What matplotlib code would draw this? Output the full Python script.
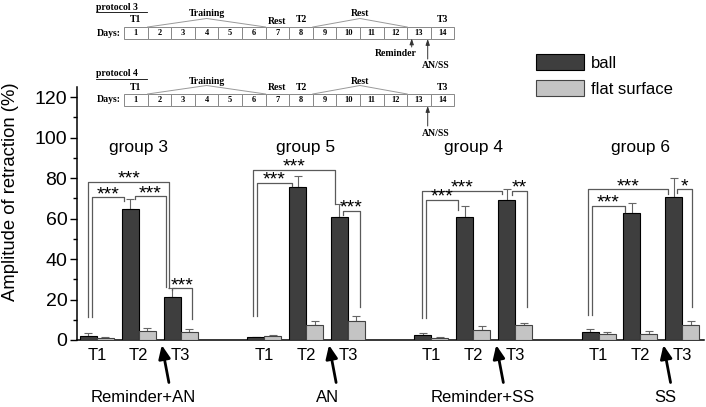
import matplotlib
matplotlib.use("Agg")
import matplotlib.pyplot as plt
from matplotlib.patches import Patch, Rectangle
import numpy as np

plt.rcParams['font.family'] = ['Liberation Sans', 'DejaVu Sans']

# ---- data (amplitude of retraction, %) ----
groups = ['group 3', 'group 5', 'group 4', 'group 6']
treatments = ['Reminder+AN', 'AN', 'Reminder+SS', 'SS']
tests = ['T1', 'T2', 'T3']

ball = [[2.1, 64.7, 21.4],
        [1.3, 75.4, 60.6],
        [2.6, 60.7, 69.1],
        [4.0, 62.7, 70.8]]
ball_err = [[1.2, 4.9, 4.4],
            [0.3, 5.6, 6.4],
            [1.0, 5.6, 5.6],
            [1.4, 5.1, 9.4]]
flat = [[1.2, 4.3, 4.0],
        [2.0, 7.4, 9.4],
        [1.1, 5.1, 7.4],
        [3.1, 3.1, 7.2]]
flat_err = [[0.3, 1.8, 1.3],
            [0.5, 1.8, 2.6],
            [0.5, 1.6, 1.0],
            [1.0, 1.5, 2.2]]

# significance brackets per group: (x left, x right, top, left end, right end, label)
# x is relative to the group's T1 position
brackets = [
    [(-0.21, 1.73, 78.2, 11.5, 25.7, '***'),
     (-0.11, 0.65, 70.5, 11.5, 68.5, '***'),
     (0.91, 1.65, 71.0, 69.5, 26.3, '***'),
     (1.79, 2.28, 25.5, 24.5, 10.2, '***')],
    [(-0.26, 1.69, 84.0, 11.9, 67.0, '***'),
     (-0.17, 0.66, 77.8, 11.9, 76.0, '***'),
     (1.89, 2.28, 63.7, 62.0, 16.4, '***')],
    [(-0.23, 1.68, 73.6, 10.7, 72.2, '***'),
     (-0.13, 0.64, 69.1, 10.7, 64.0, '***'),
     (1.93, 2.28, 73.8, 71.6, 16.4, '**')],
    [(-0.26, 1.67, 74.4, 12.3, 71.9, '***'),
     (-0.17, 0.63, 66.2, 12.3, 63.4, '***'),
     (1.88, 2.24, 74.4, 72.8, 16.4, '*')],
]
arrow_tip_x = 1.55
treat_label_x = [1.1, 1.52, 1.23, 1.59]

group_step = 4.0
bar_w = 0.407
ball_color = '#3e3e3e'
flat_color = '#c4c4c4'
line_grey = '#5a5a5a'

W, H = 706, 407
fig = plt.figure(figsize=(W / 100, H / 100), dpi=100)
ax = fig.add_axes([77 / W, 67 / H, 627 / W, 253 / H])

xt, xtl = [], []
for g in range(len(groups)):
    x0 = g * group_step
    pos = x0 + np.arange(3)
    ax.bar(pos - bar_w / 2, ball[g], bar_w, color=ball_color, edgecolor='black', linewidth=0.8, zorder=3)
    ax.bar(pos + bar_w / 2, flat[g], bar_w, color=flat_color, edgecolor='#444444', linewidth=0.8, zorder=3)
    ax.errorbar(pos - bar_w / 2, ball[g], yerr=[np.zeros(3), ball_err[g]], fmt='none',
                ecolor='#666666', elinewidth=0.8, capsize=3, capthick=0.8, zorder=2)
    ax.errorbar(pos + bar_w / 2, flat[g], yerr=[np.zeros(3), flat_err[g]], fmt='none',
                ecolor='#666666', elinewidth=0.8, capsize=3, capthick=0.8, zorder=2)
    xt.extend(pos)
    xtl.extend(tests)

    for (xl, xr, top, yl, yr, lab) in brackets[g]:
        ax.plot([x0 + xl, x0 + xl, x0 + xr, x0 + xr], [yl, top, top, yr],
                color=line_grey, linewidth=0.9, zorder=4)
        ax.text(x0 + (xl + xr) / 2, top - 0.9, lab, ha='center', va='baseline', fontsize=14, zorder=5)

    ax.text(x0 + 1, 95, groups[g], ha='center', va='center', fontsize=12.5)

    ax.annotate('', xy=(x0 + arrow_tip_x, -2.5), xytext=(x0 + arrow_tip_x + 0.17, -21),
                xycoords='data', annotation_clip=False,
                arrowprops=dict(arrowstyle='-|>,head_length=0.8,head_width=0.35',
                                color='black', linewidth=2.0, shrinkA=0, shrinkB=0))
    ax.text(x0 + treat_label_x[g], -28.5, treatments[g], ha='center', va='center', fontsize=12)

ax.set_xlim(-0.478, 14.52)
ax.set_ylim(0, 125)
ax.set_xticks(xt)
ax.set_xticklabels(xtl, fontsize=12)
ax.tick_params(axis='x', length=0, pad=6)
ax.set_yticks(np.arange(0, 121, 20))
ax.set_yticks(np.arange(10, 121, 20), minor=True)
ax.tick_params(axis='y', which='major', direction='out', length=5, width=1, labelsize=14, pad=2)
ax.tick_params(axis='y', which='minor', direction='out', length=3, width=1)
ax.spines['top'].set_visible(False)
ax.spines['right'].set_visible(False)
ax.spines['left'].set_linewidth(1.1)
ax.spines['bottom'].set_linewidth(1.1)
ax.set_ylabel('Amplitude of retraction (%)', fontsize=13.3)
ax.yaxis.set_label_coords(-0.092, 0.585)

handles = [Patch(facecolor=ball_color, edgecolor='black', linewidth=0.8, label='ball'),
           Patch(facecolor=flat_color, edgecolor='#444444', linewidth=0.8, label='flat surface')]
fig.legend(handles=handles, loc='upper left', bbox_to_anchor=(536 / W, 1 - 54 / H), frameon=False,
           fontsize=12, handlelength=2.9, handleheight=1.1, labelspacing=0.55, handletextpad=0.4,
           borderpad=0, borderaxespad=0)

# ---- protocol diagrams (pixel coordinates) ----
days = list(range(1, 15))
cell_x0, cell_w = 124, 23.6
pax = fig.add_axes([0, 0, 1, 1], facecolor='none')
pax.set_xlim(0, W)
pax.set_ylim(H, 0)
pax.axis('off')
serif = dict(family=['Liberation Serif', 'DejaVu Serif'], fontweight='bold')


def cell_center(d):
    return cell_x0 + (d - 0.5) * cell_w


def draw_protocol(name, y0, reminder):
    pax.text(96, y0 - 20, name, ha='left', va='center', fontsize=7, **serif)
    pax.plot([96, 147], [y0 - 15.5, y0 - 15.5], color='black', linewidth=0.6)
    pax.text(97, y0 + 6, 'Days:', ha='left', va='center', fontsize=7, **serif)
    for d in days:
        pax.add_patch(Rectangle((cell_x0 + (d - 1) * cell_w, y0), cell_w, 11.5,
                                facecolor='white', edgecolor='#888888', linewidth=0.7))
        pax.text(cell_center(d), y0 + 6, str(d), ha='center', va='center', fontsize=6, **serif)
    for d, lab in [(1, 'T1'), (8, 'T2'), (14, 'T3')]:
        pax.text(cell_center(d), y0 - 7, lab, ha='center', va='center', fontsize=7, **serif)
    pax.text(cell_center(7), y0 - 6, 'Rest', ha='center', va='center', fontsize=7, **serif)
    # training tent (days 2-6) and rest tent (days 9-12)
    for d1, d2, lab in [(2, 6, 'Training'), (9, 12, 'Rest')]:
        xa = cell_x0 + (d1 - 1) * cell_w
        xb = cell_x0 + d2 * cell_w
        pax.plot([xa, (xa + xb) / 2, xb], [y0, y0 - 8.5, y0], color='#999999', linewidth=0.7)
        pax.text((xa + xb) / 2, y0 - 13, lab, ha='center', va='center', fontsize=7, **serif)
    if reminder:
        pax.annotate('', xy=(411.7, y0 + 11.5), xytext=(411.7, y0 + 20),
                     arrowprops=dict(arrowstyle='-|>,head_length=0.35,head_width=0.12', color='#333333',
                                     linewidth=0.7, shrinkA=0, shrinkB=0))
        pax.text(396, y0 + 26, 'Reminder', ha='center', va='center', fontsize=7, **serif)
    pax.annotate('', xy=(427.7, y0 + 12), xytext=(427.7, y0 + 32),
                 arrowprops=dict(arrowstyle='-|>,head_length=0.35,head_width=0.12', color='#333333',
                                 linewidth=0.7, shrinkA=0, shrinkB=0))
    pax.text(436, y0 + 39, 'AN/SS', ha='center', va='center', fontsize=7, **serif)


draw_protocol('protocol 3', 27, True)
draw_protocol('protocol 4', 94, False)

fig.savefig('out.png', dpi=100)
